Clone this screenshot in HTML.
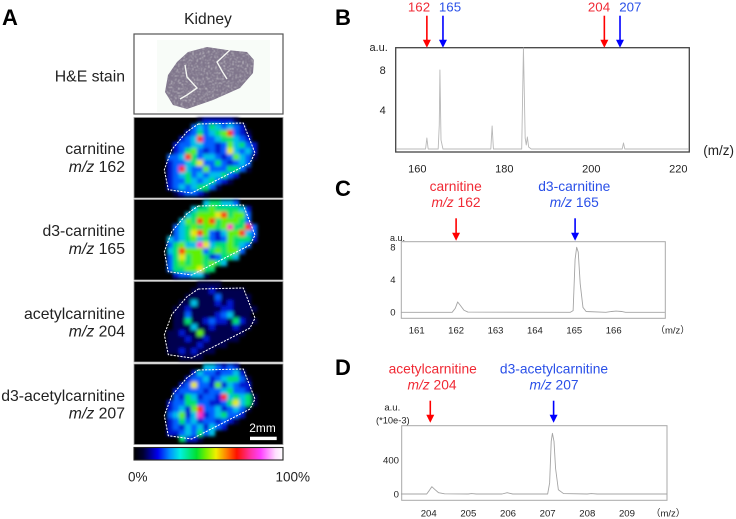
<!DOCTYPE html>
<html lang="en">
<head>
<meta charset="utf-8">
<title>Kidney imaging mass spectrometry figure</title>
<style>
html,body{margin:0;padding:0;background:#fff;}
svg{display:block;font-family:"Liberation Sans","Noto Sans CJK JP",sans-serif;}
.l{font-size:15.8px;fill:#222;text-anchor:end;}
.r{fill:#f02a35;}
.b{fill:#2a50e8;}
.t{font-size:13.8px;text-anchor:middle;}
.n{font-size:13.3px;}
.pl{font-weight:bold;font-size:22px;fill:#000;}
</style>
</head>
<body>
<svg id="fig" xmlns="http://www.w3.org/2000/svg" width="736" height="519" viewBox="0 0 736 519">
<defs>
<filter id="soft" x="-10%" y="-10%" width="120%" height="120%"><feGaussianBlur stdDeviation="1.6"/></filter>
<filter id="speck" x="0" y="0" width="100%" height="100%">
<feTurbulence type="fractalNoise" baseFrequency="0.7" numOctaves="2" seed="4" result="n"/>
<feColorMatrix in="n" type="matrix" values="0 0 0 0 1  0 0 0 0 1  0 0 0 0 1  2.5 0 0 0 -1.4" result="w"/>
<feComposite in="w" in2="SourceAlpha" operator="in" result="wi"/>
<feGaussianBlur in="wi" stdDeviation="0.5" result="wb"/>
<feMerge><feMergeNode in="SourceGraphic"/><feMergeNode in="wb"/></feMerge>
</filter>
<linearGradient id="cbar">
<stop offset="0" stop-color="#000"/><stop offset=".06" stop-color="#000030"/><stop offset=".16" stop-color="#0000f0"/><stop offset=".24" stop-color="#0090ff"/><stop offset=".31" stop-color="#00f0e0"/><stop offset=".42" stop-color="#00e030"/><stop offset=".48" stop-color="#70f000"/><stop offset=".55" stop-color="#f0f000"/><stop offset=".62" stop-color="#ff8000"/><stop offset=".69" stop-color="#ff1000"/><stop offset=".78" stop-color="#ff30a0"/><stop offset=".85" stop-color="#ff40ff"/><stop offset=".95" stop-color="#ffe0ff"/><stop offset="1" stop-color="#fff"/>
</linearGradient>
</defs>

<text class="pl" x="2" y="25">A</text>
<text x="208" y="24" font-size="15.6" fill="#222" text-anchor="middle">Kidney</text>

<text class="l" x="125" y="81.7">H&amp;E stain</text>
<text class="l" x="125" y="154">carnitine</text>
<text class="l" x="125" y="172"><tspan font-style="italic">m/z</tspan> 162</text>
<text class="l" x="125" y="236">d3-carnitine</text>
<text class="l" x="125" y="254"><tspan font-style="italic">m/z</tspan> 165</text>
<text class="l" x="125" y="319">acetylcarnitine</text>
<text class="l" x="125" y="336.7"><tspan font-style="italic">m/z</tspan> 204</text>
<text class="l" x="125" y="401">d3-acetylcarnitine</text>
<text class="l" x="125" y="418.7"><tspan font-style="italic">m/z</tspan> 207</text>

<g>
<rect x="134" y="34" width="149" height="80" fill="#fff" stroke="#555" stroke-width="1.2"/>
<rect x="157" y="40" width="113" height="72" fill="#f8fcf8"/>
<polygon points="188,52 207,47 227,50 247,52 254,60 253,73 240,88 213,100 187,109 173,105 165,92 168,75 177,62" fill="#7f748b" filter="url(#speck)"/>
<path d="M185,65 L187,77 L197,88 L187,95 L180,99" fill="none" stroke="#f4f6f2" stroke-width="1.4"/>
<path d="M230,50 L217,62 L222,71 L227,79" fill="none" stroke="#f4f6f2" stroke-width="1.4"/>
</g>

<g id="heat"></g>

<text x="249.3" y="432" font-size="11.9" fill="#fff">2mm</text>
<rect x="250" y="436.7" width="26.7" height="3.4" fill="#fff"/>
<rect x="134" y="447.5" width="149" height="12.5" fill="url(#cbar)" stroke="#222" stroke-width="1.1"/>
<text x="128" y="481.7" font-size="13.5" fill="#222">0%</text>
<text x="275.5" y="481.7" font-size="13.5" fill="#222">100%</text>

<!-- Panel B -->
<text class="pl" x="335" y="25">B</text>
<text class="t n r" x="419" y="11.5">162</text>
<text class="t n b" x="450" y="11.5">165</text>
<text class="t n r" x="599" y="11.5">204</text>
<text class="t n b" x="630.3" y="11.5">207</text>
<text x="369.5" y="51" font-size="11" fill="#222">a.u.</text>
<text x="703.3" y="155" font-size="13.5" fill="#222">(m/z)</text>
<g id="chartB"></g>

<!-- Panel C -->
<text class="pl" x="335" y="196">C</text>
<text class="t r" x="455.7" y="191">carnitine</text>
<text class="t r" x="456" y="207"><tspan font-style="italic">m/z</tspan> 162</text>
<text class="t b" x="574.3" y="191">d3-carnitine</text>
<text class="t b" x="574.3" y="207"><tspan font-style="italic">m/z</tspan> 165</text>
<text x="390" y="241.2" font-size="9" fill="#222">a.u.</text>
<text x="655.5" y="333.3" font-size="9.5" fill="#222">（m/z）</text>
<g id="chartC"></g>

<!-- Panel D -->
<text class="pl" x="335" y="375">D</text>
<text class="t r" x="432.7" y="373.3">acetylcarnitine</text>
<text class="t r" x="432" y="389.3"><tspan font-style="italic">m/z</tspan> 204</text>
<text class="t b" x="554" y="373.3">d3-acetylcarnitine</text>
<text class="t b" x="554" y="389.3"><tspan font-style="italic">m/z</tspan> 207</text>
<text x="392.3" y="410.3" font-size="9.5" fill="#222" text-anchor="middle">a.u.</text>
<text x="376" y="423.7" font-size="9.3" fill="#222">(*10e-3)</text>
<text x="651" y="516.7" font-size="9.5" fill="#222">（m/z）</text>
<g id="chartD"></g>
</svg>

<script>
// Spectrum B
const mzB = [155.2,161.9,162.2,162.5,164.8,165.05,165.2,165.45,165.9,176.9,177.2,177.5,184.0,184.4,184.8,185.05,185.3,185.6,186.2,207.1,207.4,207.7,222.4];
const intensityB = [0.1,0.1,1.2,0.1,0.1,2.5,8,1,0.1,0.1,2.4,0.1,0.1,10.2,1.2,0.5,1.3,0.3,0.1,0.1,0.7,0.1,0.1];
const xTicksB = [160,180,200,220];
const yTicksB = [4,8];
const arrowsB = [[162.2,'#ff0000'],[165.9,'#0000ff'],[203.0,'#ff0000'],[206.6,'#0000ff']];

// Spectrum C
const mzC = [160.6,161.9,161.98,162.04,162.1,162.2,162.3,164.9,164.97,165.02,165.06,165.1,165.15,165.22,165.3,165.8,165.95,166.06,166.2,166.3,167.3];
const intensityC = [0,0,0.5,1.27,0.9,0.25,0.03,0,0.2,6.5,8,7.4,3.5,0.6,0.1,0,0.1,0.15,0.1,0,0];
const xTicksC = [161,162,163,164,165,166];
const yTicksC = [0,4,8];
const arrowsC = [[162,'#ff0000'],[165.02,'#0000ff']];

// Spectrum D
const mzD = [203.3,203.95,204.02,204.08,204.15,204.25,204.4,205.0,205.08,205.2,205.85,205.98,206.12,207.0,207.05,207.09,207.12,207.16,207.2,207.27,207.4,208.0,208.1,208.25,210.0];
const intensityD = [0,0,45,86,55,15,2,0,5,0,0,15,0,0,130,620,714,620,300,50,5,0,5,0,0];
const xTicksD = [204,205,206,207,208,209];
const yTicksD = [0,400];
const arrowsD = [[204.04,'#ff0000'],[207.15,'#0000ff']];

// Ion image intensity grids (0-9 colour bins, rows top to bottom)
const gridCarnitine = [
"000000012222210000",
"000000343543432000",
"000002353456832100",
"000023483345543200",
"000233443323645320",
"000235632323743420",
"003348534432364310",
"002334573353234300",
"002384336333553100",
"002345343445320000",
"002335434532100000",
"002343455310000000",
"000123321000000000"];
const gridD3Carnitine = [
"000000004554430000",
"000000455655554200",
"000004566678566300",
"000046586856665300",
"000345656656955830",
"000345786324668430",
"004345645323655520",
"003564497455654300",
"004586663565663000",
"003575665235540000",
"003565665654000000",
"003556675500000000",
"000233441000000000"];
const gridAcetyl = [
"000000011110000000",
"000000111211111000",
"000001111131111100",
"000011411121211100",
"000112111112211110",
"000113111123411100",
"000115112322152110",
"000111411211121100",
"001121161111111000",
"001112112111110000",
"001111121111000000",
"001121211100000000",
"000011110000000000"];
const gridD3Acetyl = [
"000000004432320000",
"000000243323342000",
"000002334234553100",
"000023733262432200",
"000233332334533200",
"000325423328454510",
"002335533223574510",
"002342683342343100",
"003462492345332000",
"002353423323210000",
"002324342432000000",
"002234353400000000",
"000052210000000000"];
const colorBins = ['#000000','#000050','#0014d0','#0060ff','#00c0e8','#00e070','#60f000','#e8e800','#ff2800','#ff30c0'];
const ionImages = [
 ['carnitine',gridCarnitine,117.5,118,0],
 ['d3-carnitine',gridD3Carnitine,199.5,200,0],
 ['acetylcarnitine',gridAcetyl,281.5,282,1],
 ['d3-acetylcarnitine',gridD3Acetyl,364,364,0]
];
const outline = [[43.3,6],[88.3,5],[100,35],[95,45],[36.7,75],[13.3,71.7],[9.3,51.7],[16.7,31.7],[31.7,14]];

const NS = 'http://www.w3.org/2000/svg';
function mk(tag, attrs, parent, txt){
  const e = document.createElementNS(NS, tag);
  for (const k in attrs) e.setAttribute(k, attrs[k]);
  if (txt !== undefined) e.textContent = txt;
  parent.appendChild(e);
  return e;
}

const heat = document.getElementById('heat');
ionImages.forEach(function(img){
  const name = img[0], grid = img[1], top = img[2], oy = img[3], dy = img[4];
  const g = mk('g', {}, heat);
  
  
  const bg = mk('rect', {x:134, y:top, width:149, height:80.5, fill:'#000', stroke:'#999', 'stroke-width':0.8}, g);
  
  
  const cells = mk('g', {filter:'url(#soft)'}, g);
  
  
  grid.forEach(function(row, r){
    for (let c = 0; c < row.length; c++){
      const v = +row[c];
      if (!v) continue;
      const cell = mk('rect', {x:155 + c*6, y:oy + r*6, width:6.2, height:6.2, fill:colorBins[v]}, cells);
      
      
    }
  });
  const pts = outline.map(function(p){ return (155+p[0]) + ',' + (oy+dy+p[1]); }).join(' ');
  const line = mk('polygon', {points:pts, fill:'none', stroke:'#fff', 'stroke-width':1, 'stroke-dasharray':'2.2 1.2'}, g);
  
  
});

function drawChart(cfg){
  const g = document.getElementById(cfg.id);
  const xS = function(v){ return cfg.x0 + (v - cfg.xRef) * cfg.xK; };
  const yS = function(v){ return cfg.y0 - v * cfg.yK; };
  const box = mk('rect', {x:cfg.left, y:cfg.top, width:cfg.right-cfg.left, height:cfg.bottom-cfg.top, fill:'#fff', stroke:cfg.boxColor, 'stroke-width':cfg.boxW}, g);
  
  
  const pts = cfg.mz.map(function(m,i){ return xS(m).toFixed(2) + ',' + yS(cfg.vals[i]).toFixed(2); }).join(' ');
  const line = mk('polyline', {points:pts, fill:'none', stroke:cfg.lineColor, 'stroke-width':cfg.lineW, 'stroke-linejoin':'round'}, g);
  
  
  cfg.xTicks.forEach(function(t){
    const e = mk('text', {x:xS(t), y:cfg.xLabelY, 'font-size':cfg.font, fill:'#222', 'text-anchor':'middle'}, g, t);
    
    
  });
  cfg.yTicks.forEach(function(t){
    const e = mk('text', {x:cfg.yLabelX, y:yS(t) + cfg.font*0.36, 'font-size':cfg.font, fill:'#222', 'text-anchor':'end'}, g, t);
    
    
  });
  cfg.arrows.forEach(function(a){
    const x = xS(a[0]);
    const shaft = mk('line', {x1:x, x2:x, y1:cfg.arrowTop, y2:cfg.arrowTip-7, stroke:a[1], 'stroke-width':1.6}, g);
    
    
    const head = mk('polygon', {points:(x-4)+','+(cfg.arrowTip-8)+' '+(x+4)+','+(cfg.arrowTip-8)+' '+x+','+cfg.arrowTip, fill:a[1]}, g);
    
    
  });
}

drawChart({id:'chartB', mz:mzB, vals:intensityB, xTicks:xTicksB, yTicks:yTicksB, arrows:arrowsB,
  x0:417.3, xRef:160, xK:4.35, y0:150, yK:10, left:395.7, right:689.3, top:47.7, bottom:152,
  boxColor:'#444', boxW:1.3, lineColor:'#b8b8b8', lineW:0.9, xLabelY:172.3, yLabelX:385.7, font:11,
  arrowTop:15.7, arrowTip:47.7});
drawChart({id:'chartC', mz:mzC, vals:intensityC, xTicks:xTicksC, yTicks:yTicksC, arrows:arrowsC,
  x0:416.7, xRef:161, xK:39.4, y0:312.3, yK:8.13, left:401.3, right:665.3, top:241.7, bottom:318.3,
  boxColor:'#a8a8a8', boxW:1, lineColor:'#a4a4a4', lineW:0.9, xLabelY:333.3, yLabelX:395.5, font:9.5,
  arrowTop:218.3, arrowTip:240.7});
drawChart({id:'chartD', mz:mzD, vals:intensityD, xTicks:xTicksD, yTicks:yTicksD, arrows:arrowsD,
  x0:428.7, xRef:204, xK:39.65, y0:494, yK:0.085, left:401.7, right:667, top:425.7, bottom:500.3,
  boxColor:'#a8a8a8', boxW:1, lineColor:'#a4a4a4', lineW:0.9, xLabelY:516.7, yLabelX:399, font:9.6,
  arrowTop:400.7, arrowTip:422.7});
</script>
</body>
</html>
